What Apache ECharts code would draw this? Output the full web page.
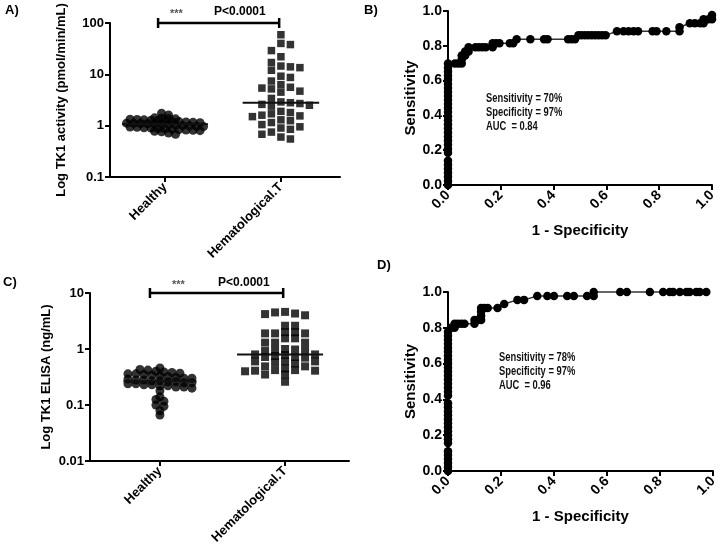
<!DOCTYPE html>
<html>
<head>
<meta charset="utf-8">
<script src="https://cdn.jsdelivr.net/npm/echarts@6/dist/echarts.min.js"></script>
<style>
html, body { margin: 0; padding: 0; background: #fff; }
#chart { width: 720px; height: 549px; }
</style>
</head>
<body>
<div id="chart"></div>
<script>
// ---- data ----
const groupNames = ['Healthy', 'Hematological.T'];

// A) TK1 activity (pmol/min/mL)
const activityHealthy = [1.75, 1.62, 1.42, 1.4, 1.38, 1.36, 1.34, 1.32, 1.3, 1.28, 1.26, 1.24, 1.22, 1.2, 1.18,
  1.16, 1.14, 1.12, 1.11, 1.1, 1.09, 1.08, 1.06, 1.04, 1.02, 1.0, 0.99, 0.97, 0.96, 0.94, 0.93, 0.91, 0.9,
  0.88, 0.87, 0.85, 0.84, 0.82, 0.81, 0.8, 0.78, 0.76, 0.72, 0.68];
const activityHemat = [59, 40, 38, 29, 22, 17, 14.5, 14, 13.5, 12, 9.2, 8.7, 7.4, 6.3, 5.6, 5.4, 5.2, 4.7, 4.5,
  3.4, 2.9, 2.8, 2.7, 2.6, 2.5, 2.4, 1.9, 1.8, 1.7, 1.6, 1.55, 1.5, 1.3, 1.25, 1.15, 1.05, 0.95, 0.9, 0.85,
  0.75, 0.68, 0.6, 0.55];

// C) TK1 ELISA (ng/mL)
const elisaHealthy = [0.46, 0.43, 0.42, 0.4, 0.39, 0.38, 0.37, 0.36, 0.36, 0.35, 0.34, 0.33, 0.32, 0.31, 0.3,
  0.3, 0.29, 0.28, 0.28, 0.27, 0.27, 0.26, 0.26, 0.25, 0.25, 0.24, 0.24, 0.23, 0.23, 0.22, 0.22, 0.21, 0.21,
  0.2, 0.18, 0.14, 0.126, 0.117, 0.1, 0.095, 0.079, 0.066];
const elisaHemat = [4.6, 4.5, 4.3, 4.2, 4.0, 2.6, 2.6, 2.0, 2.0, 1.9, 1.9, 1.9, 1.55, 1.55, 1.3, 1.3, 1.3,
  1.0, 0.98, 0.95, 0.95, 0.92, 0.8, 0.8, 0.78, 0.75, 0.72, 0.72, 0.7, 0.6, 0.6, 0.6, 0.58, 0.55, 0.49, 0.49,
  0.45, 0.42, 0.42, 0.41, 0.41, 0.4, 0.35, 0.35, 0.26];

// B) ROC, TK1 activity
const rocActivityFpr = [0, 0, 0, 0, 0, 0, 0, 0, 0, 0, 0, 0, 0, 0, 0, 0, 0, 0, 0, 0, 0, 0, 0, 0, 0, 0, 0, 0, 0, 0,
  0.026, 0.039, 0.052, 0.052, 0.052, 0.065, 0.065, 0.078, 0.078, 0.104, 0.117, 0.13, 0.143, 0.169, 0.169, 0.182,
  0.195, 0.234, 0.247, 0.26, 0.312, 0.364, 0.377, 0.455, 0.468, 0.481, 0.494, 0.506, 0.519, 0.532, 0.545,
  0.558, 0.571, 0.584, 0.597, 0.64, 0.665, 0.684, 0.703, 0.72, 0.775, 0.79, 0.827, 0.877, 0.877, 0.916, 0.935,
  0.955, 0.968, 0.968, 0.987, 1.0, 1.0];
const rocActivityTpr = [0, 0.023, 0.047, 0.07, 0.093, 0.116, 0.14, 0.186, 0.209, 0.233, 0.256, 0.279, 0.302,
  0.326, 0.349, 0.372, 0.395, 0.419, 0.442, 0.465, 0.488, 0.512, 0.535, 0.558, 0.581, 0.605, 0.628, 0.651,
  0.674, 0.698, 0.698, 0.698, 0.698, 0.721, 0.744, 0.744, 0.767, 0.767, 0.791, 0.791, 0.791, 0.791, 0.791,
  0.791, 0.814, 0.814, 0.814, 0.814, 0.814, 0.837, 0.837, 0.837, 0.837, 0.837, 0.837, 0.837, 0.86, 0.86,
  0.86, 0.86, 0.86, 0.86, 0.86, 0.86, 0.86, 0.884, 0.884, 0.884, 0.884, 0.884, 0.884, 0.884, 0.884, 0.884,
  0.907, 0.93, 0.93, 0.93, 0.93, 0.953, 0.953, 0.953, 0.977];

// D) ROC, TK1 ELISA
const rocElisaFpr = [0, 0, 0, 0, 0, 0, 0, 0, 0, 0, 0, 0, 0, 0, 0, 0, 0, 0, 0, 0, 0, 0, 0, 0, 0, 0, 0, 0, 0, 0, 0,
  0, 0, 0, 0.012, 0.025, 0.025, 0.037, 0.05, 0.062, 0.1, 0.1, 0.112, 0.125, 0.125, 0.125, 0.125, 0.137, 0.15,
  0.187, 0.212, 0.262, 0.287, 0.337, 0.375, 0.4, 0.45, 0.475, 0.525, 0.55, 0.55, 0.65, 0.675, 0.762, 0.812,
  0.837, 0.85, 0.875, 0.9, 0.912, 0.937, 0.95, 0.975];
const rocElisaTpr = [0, 0.022, 0.044, 0.067, 0.089, 0.111, 0.156, 0.178, 0.2, 0.222, 0.244, 0.267, 0.289,
  0.311, 0.333, 0.356, 0.378, 0.422, 0.444, 0.467, 0.489, 0.511, 0.533, 0.556, 0.578, 0.6, 0.622, 0.644,
  0.667, 0.689, 0.711, 0.733, 0.756, 0.778, 0.8, 0.8, 0.822, 0.822, 0.822, 0.822, 0.822, 0.844, 0.844, 0.844,
  0.867, 0.889, 0.911, 0.911, 0.911, 0.911, 0.933, 0.956, 0.956, 0.978, 0.978, 0.978, 0.978, 0.978, 0.978,
  0.978, 1.0, 1.0, 1.0, 1.0, 1.0, 1.0, 1.0, 1.0, 1.0, 1.0, 1.0, 1.0, 1.0];

const statsActivity = ['Sensitivity = 70%', 'Specificity = 97%', 'AUC  = 0.84'];
const statsElisa = ['Sensitivity = 78%', 'Specificity = 97%', 'AUC  = 0.96'];
const pValueText = 'P<0.0001';

// ---- layout ----
const gridA = { left: 110, top: 23, width: 230, height: 154 };
const gridB = { left: 448, top: 11, width: 264, height: 174 };
const gridC = { left: 90, top: 293, width: 259, height: 168 };
const gridD = { left: 448, top: 292, width: 269, height: 179 };
const xRangeA = [-0.475, 1.51];
const xRangeC = [-0.559, 1.511];
const yRangeA = [0.1, 100];
const yRangeC = [0.01, 10];
const FONT = "'Liberation Sans', Arial, sans-serif";

// spread the dots sideways like a scatter dot plot.
// 'rows': points in the same row band sit side by side; 'columns': each point takes the
// nearest free column slot that does not collide with points already placed.
function swarmGroup(values, center, grid, xRange, yRange, shape) {
  const l0 = Math.log10(yRange[0]), l1 = Math.log10(yRange[1]);
  const ppu = grid.width / (xRange[1] - xRange[0]);
  const ys = values.map(v => (Math.log10(v) - l0) / (l1 - l0) * grid.height);
  const offs = new Array(values.length).fill(0);
  if (shape.mode === 'rows') {
    const bins = {};
    values.forEach((v, i) => {
      const b = Math.round(ys[i] / shape.binH);
      (bins[b] = bins[b] || []).push(i);
    });
    Object.keys(bins).forEach(b => {
      const idxs = bins[b];
      const n = idxs.length;
      idxs.forEach((id, j) => { offs[id] = (j - (n - 1) / 2) * shape.step; });
    });
  } else {
    const placed = [];
    values.forEach((v, i) => {
      let x = null;
      for (let k = 0; x === null && k < 40; k++) {
        const cands = k === 0 ? [0] : (i % 2 ? [-k, k] : [k, -k]);
        for (const c of cands) {
          const cx = c * shape.step;
          if (placed.every(p => Math.abs(p.x - cx) > shape.step * 0.5 || Math.abs(p.y - ys[i]) >= shape.gap)) {
            x = cx; break;
          }
        }
      }
      offs[i] = x || 0;
      placed.push({ x: offs[i], y: ys[i] });
    });
  }
  const sorted = values.slice().sort((a, b) => a - b);
  const n = sorted.length;
  const med = n % 2 ? sorted[(n - 1) / 2] : (sorted[n / 2 - 1] + sorted[n / 2]) / 2;
  const r = shape.size / 2;
  return {
    pts: values.map((v, i) => [center + offs[i] / ppu, v]),
    median: [
      [center + (Math.min(...offs) - r - shape.ext) / ppu, med],
      [center + (Math.max(...offs) + r + shape.ext) / ppu, med]
    ]
  };
}

const circleA = { mode: 'rows', binH: 4, step: 7, size: 9, ext: 0 };
const squareA = { mode: 'columns', step: 9.5, gap: 7.5, size: 7.5, ext: 6 };
const circleC = { mode: 'rows', binH: 5, step: 8, size: 9, ext: 0 };
const squareC = { mode: 'columns', step: 10, gap: 5.5, size: 8, ext: 4 };

const aH = swarmGroup(activityHealthy, 0, gridA, xRangeA, yRangeA, circleA);
const aT = swarmGroup(activityHemat, 1, gridA, xRangeA, yRangeA, squareA);
const cH = swarmGroup(elisaHealthy, 0, gridC, xRangeC, yRangeC, circleC);
const cT = swarmGroup(elisaHemat, 1, gridC, xRangeC, yRangeC, squareC);

const axisLine = { onZero: false, lineStyle: { color: '#000', width: 2 } };
const axisTick = { length: 5, lineStyle: { color: '#000', width: 2 } };
const tickLabel = { color: '#000', fontWeight: 'bold', fontSize: 13, fontFamily: FONT };
const nameStyle = { color: '#000', fontWeight: 'bold', fontSize: 13, fontFamily: FONT };

function catXAxis(idx, range) {
  return {
    gridIndex: idx, type: 'value', min: range[0], max: range[1],
    axisLine, splitLine: { show: false },
    axisTick: Object.assign({ customValues: [0, 1] }, axisTick),
    axisLabel: Object.assign({ customValues: [0, 1], rotate: 45, margin: 8,
      formatter: v => groupNames[Math.round(v)] }, tickLabel)
  };
}
function logYAxis(idx, range, name, gap) {
  return {
    gridIndex: idx, type: 'log', logBase: 10, min: range[0], max: range[1],
    axisLine, axisTick, splitLine: { show: false }, minorTick: { show: false },
    axisLabel: Object.assign({ margin: 6 }, tickLabel),
    name, nameLocation: 'middle', nameGap: gap, nameTextStyle: nameStyle
  };
}
function rocXAxis(idx) {
  return {
    gridIndex: idx, type: 'value', min: 0, max: 1, interval: 0.2,
    axisLine, axisTick, splitLine: { show: false },
    axisLabel: Object.assign({ rotate: 45, margin: 8, formatter: v => v.toFixed(1) }, tickLabel, { fontSize: 14 }),
    name: '1 - Specificity', nameLocation: 'middle', nameGap: 38,
    nameTextStyle: Object.assign({}, nameStyle, { fontSize: 15 })
  };
}
function rocYAxis(idx) {
  return {
    gridIndex: idx, type: 'value', min: 0, max: 1, interval: 0.2,
    axisLine, axisTick, splitLine: { show: false },
    axisLabel: Object.assign({ margin: 6, formatter: v => v.toFixed(1) }, tickLabel, { fontSize: 14 }),
    name: 'Sensitivity', nameLocation: 'middle', nameGap: 30,
    nameTextStyle: Object.assign({}, nameStyle, { fontSize: 15 })
  };
}

function dots(idx, data, symbol, size) {
  return { type: 'scatter', xAxisIndex: idx, yAxisIndex: idx, data, symbol, symbolSize: size,
    itemStyle: { color: '#000' }, silent: true };
}
function medianLine(idx, data) {
  return { type: 'line', xAxisIndex: idx, yAxisIndex: idx, data, symbol: 'none', z: 5,
    lineStyle: { color: '#111', width: 2 }, silent: true };
}
function bracket(idx, data) {
  return { type: 'line', xAxisIndex: idx, yAxisIndex: idx, data, clip: false,
    symbol: 'rect', symbolSize: [2.5, 10], itemStyle: { color: '#000' },
    lineStyle: { color: '#000', width: 2.5 }, silent: true };
}
function roc(idx, fpr, tpr) {
  return { type: 'line', xAxisIndex: idx, yAxisIndex: idx, data: fpr.map((x, i) => [x, tpr[i]]),
    symbol: 'circle', symbolSize: 8.5, showAllSymbol: true, clip: false,
    itemStyle: { color: '#000' }, lineStyle: { color: '#333', width: 1.5 }, silent: true };
}

function txt(left, top, text, style) {
  return { type: 'text', left, top, style: Object.assign({ text, fill: '#000', font: 'bold 13px ' + FONT }, style) };
}
function statsText(x, y, lines) {
  return { type: 'text', x, y, scaleX: 0.72, style: { text: lines.join('\n'), fill: '#111', lineHeight: 14,
    font: 'bold 13px ' + FONT } };
}

const chart = echarts.init(document.getElementById('chart'));
chart.setOption({
  backgroundColor: '#fff',
  animation: false,
  grid: [gridA, gridB, gridC, gridD],
  xAxis: [catXAxis(0, xRangeA), rocXAxis(1), catXAxis(2, xRangeC), rocXAxis(3)],
  yAxis: [
    logYAxis(0, yRangeA, 'Log TK1 activity (pmol/min/mL)', 42),
    rocYAxis(1),
    logYAxis(2, yRangeC, 'Log TK1 ELISA (ng/mL)', 37),
    rocYAxis(3)
  ],
  series: [
    dots(0, aH.pts, 'circle', 9),
    dots(0, aT.pts, 'rect', 7.5),
    medianLine(0, aH.median),
    medianLine(0, aT.median),
    bracket(0, [[-0.06, yRangeA[1]], [0.985, yRangeA[1]]]),
    roc(1, rocActivityFpr, rocActivityTpr),
    dots(2, cH.pts, 'circle', 9),
    dots(2, cT.pts, 'rect', 8),
    medianLine(2, cH.median),
    medianLine(2, cT.median),
    bracket(2, [[-0.08, yRangeC[1]], [0.985, yRangeC[1]]]),
    roc(3, rocElisaFpr, rocElisaTpr)
  ],
  graphic: [
    txt(5, 4, 'A)'),
    txt(364, 4, 'B)'),
    txt(3, 276, 'C)'),
    txt(377, 259, 'D)'),
    txt(170, 8, '***', { fill: '#555', font: 'bold 11px ' + FONT }),
    txt(214, 6, pValueText, { font: 'bold 12px ' + FONT }),
    txt(172, 279, '***', { fill: '#555', font: 'bold 11px ' + FONT }),
    txt(218, 277, pValueText, { font: 'bold 12px ' + FONT }),
    statsText(486, 91, statsActivity),
    statsText(499, 350, statsElisa)
  ]
});
</script>
</body>
</html>
